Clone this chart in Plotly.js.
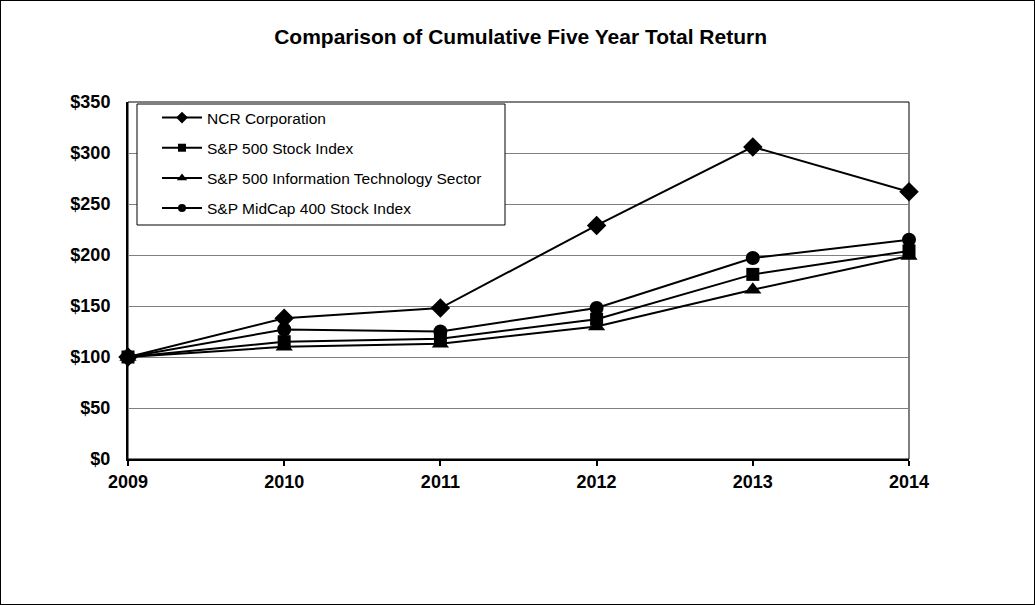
<!DOCTYPE html>
<html>
<head>
<meta charset="utf-8">
<script src="https://cdn.plot.ly/plotly-3.0.1.min.js"></script>
<style>
html,body{margin:0;padding:0;background:#fff;}
#wrap{position:relative;width:1035px;height:605px;}
#chart{width:1035px;height:605px;}
#frame{position:absolute;left:0;top:0;width:1033px;height:603px;border:1px solid #000;pointer-events:none;}
</style>
</head>
<body>
<div id="wrap"><div id="chart"></div><div id="frame"></div></div>
<script>
const years = [2009, 2010, 2011, 2012, 2013, 2014];
const ncr = [100, 138, 148, 229, 306, 262];
const sp500 = [100, 115, 118, 137, 181, 204];
const spIT = [100, 110, 113, 130, 166, 199];
const midcap = [100, 127, 125, 148, 197, 215];
const seriesNames = ["NCR Corporation", "S&P 500 Stock Index", "S&P 500 Information Technology Sector", "S&P MidCap 400 Stock Index"];
const yTicks = [0, 50, 100, 150, 200, 250, 300, 350];

const FONT = "Liberation Sans, Arial, sans-serif";
const symbols = ["diamond", "square", "triangle-up", "circle"];
const sizes = [15, 13, 15, 14];
const legendSizes = [9, 8, 9, 8];
const series = [ncr, sp500, spIT, midcap];

const data = [];
series.forEach((vals, i) => {
  data.push({
    x: years, y: vals, name: seriesNames[i], type: "scatter", mode: "lines+markers",
    showlegend: false,
    line: {color: "#000", width: 2},
    marker: {symbol: symbols[i], size: sizes[i], color: "#000"},
    cliponaxis: false
  });
});
series.forEach((vals, i) => {
  data.push({
    x: [null], y: [null], name: seriesNames[i], type: "scatter", mode: "lines+markers",
    legendgroup: "g" + i, showlegend: true,
    line: {color: "#000", width: 2},
    marker: {symbol: symbols[i], size: legendSizes[i], color: "#000"}
  });
});

const px = v => (v - 128) / 781;
const py = v => (459 - v) / 357;

const layout = {
  width: 1035, height: 605,
  paper_bgcolor: "#fff", plot_bgcolor: "#fff",
  margin: {l: 128, r: 126, t: 102, b: 146},
  title: {text: "<b>Comparison of Cumulative Five Year Total Return</b>",
    font: {family: FONT, size: 21, color: "#000"},
    xref: "container", x: 0.503, xanchor: "center", yref: "container", y: 1 - 37/605, yanchor: "middle"},
  showlegend: true,
  legend: {x: px(157), y: py(101), xanchor: "left", yanchor: "top",
    bgcolor: "rgba(0,0,0,0)", borderwidth: 0,
    font: {family: FONT, size: 15.5, color: "#000"},
    tracegroupgap: 7, itemwidth: 40},
  xaxis: {type: "linear", range: [2009, 2014], tickvals: years, ticktext: years.map(String),
    showgrid: false, zeroline: false, showline: true, linecolor: "#000", linewidth: 2,
    ticks: "outside", ticklen: 5, tickwidth: 2, tickcolor: "#000",
    tickfont: {family: FONT, size: 18, color: "#000", weight: "bold"}},
  yaxis: {range: [0, 350], tickvals: yTicks, ticktext: yTicks.map(v => "$" + v),
    showgrid: true, gridcolor: "#808080", gridwidth: 1, zeroline: false,
    showline: true, linecolor: "#000", linewidth: 2, ticks: "", ticklabelstandoff: 12,
    tickfont: {family: FONT, size: 18, color: "#000", weight: "bold"}},
  shapes: [
    {type: "rect", xref: "paper", yref: "paper", x0: 0, x1: 1, y0: 0, y1: 1,
      line: {color: "#000", width: 1}, layer: "below"},
    {type: "rect", xref: "paper", yref: "paper", x0: px(137), x1: px(505), y0: py(225), y1: py(104),
      line: {color: "#000", width: 1}, fillcolor: "#fff", layer: "above"}
  ]
};

Plotly.newPlot("chart", data, layout, {displayModeBar: false, staticPlot: true});
</script>
</body>
</html>
